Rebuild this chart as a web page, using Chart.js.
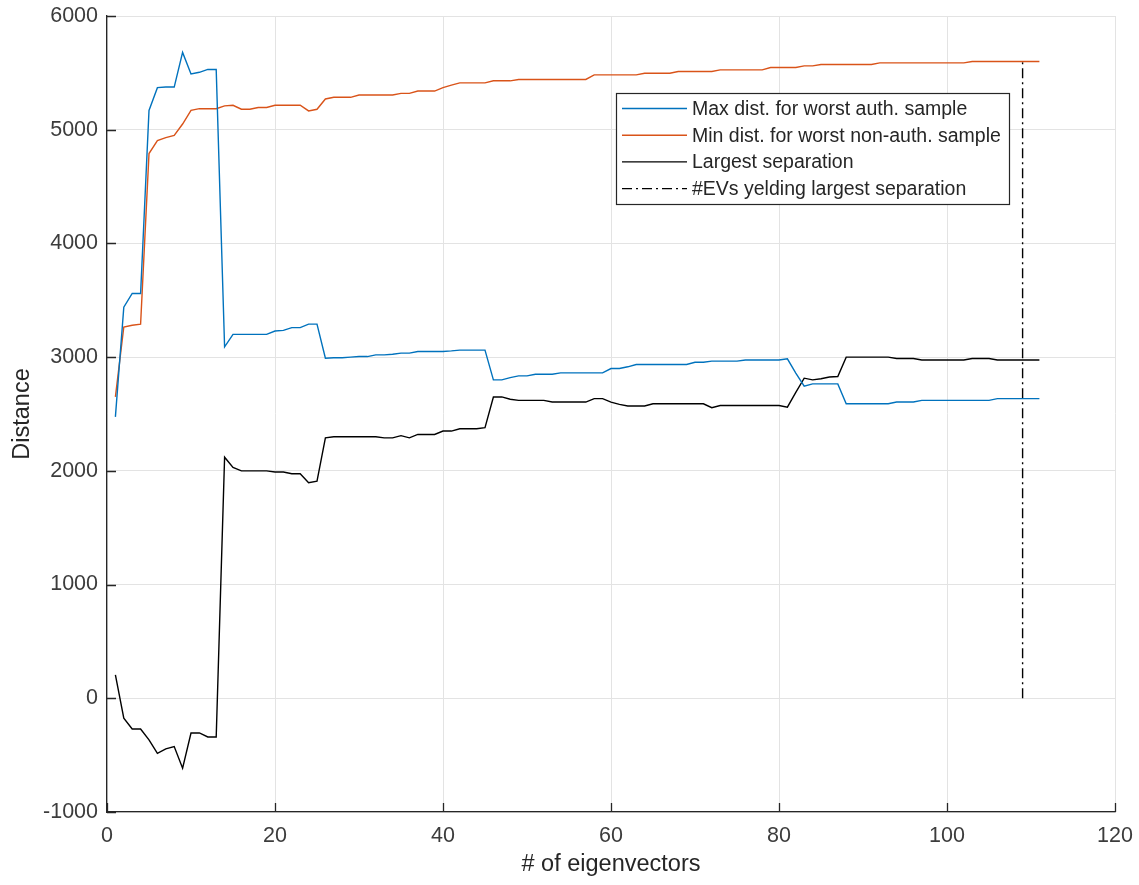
<!DOCTYPE html>
<html>
<head>
<meta charset="utf-8">
<title>Distance vs # of eigenvectors</title>
<script src="https://cdn.jsdelivr.net/npm/chart.js@4/dist/chart.umd.min.js"></script>
<style>
  html, body { margin: 0; padding: 0; background: #fff; }
  #chart { display: block; }
</style>
</head>
<body>
<canvas id="chart" width="1139" height="885"></canvas>
<script>
// number of eigenvectors used (x axis)
const evCount = Array.from({ length: 111 }, (_, i) => i + 1);

const maxDistAuth = [
  2475, 3440, 3560, 3560, 5170, 5370, 5375, 5375, 5680, 5490,
  5505, 5530, 5530, 3090, 3200, 3200, 3200, 3200, 3200, 3230,
  3235, 3260, 3260, 3290, 3290, 2990, 2995, 2995, 3000, 3005,
  3005, 3020, 3020, 3025, 3035, 3035, 3050, 3050, 3050, 3050,
  3055, 3062, 3062, 3062, 3062, 2800, 2800, 2820, 2835, 2835,
  2850, 2850, 2850, 2862, 2862, 2862, 2862, 2862, 2862, 2900,
  2900, 2915, 2935, 2935, 2935, 2935, 2935, 2935, 2935, 2955,
  2955, 2965, 2965, 2965, 2965, 2975, 2975, 2975, 2975, 2975,
  2985, 2860, 2745, 2765, 2765, 2765, 2765, 2590, 2590, 2590,
  2590, 2590, 2590, 2605, 2605, 2605, 2620, 2620, 2620, 2620,
  2620, 2620, 2620, 2620, 2620, 2635, 2635, 2635, 2635, 2635,
  2635
];

const minDistNonAuth = [
  2650, 3265, 3280, 3290, 4790, 4905, 4930, 4950, 5050, 5170,
  5185, 5185, 5185, 5210, 5215, 5180, 5180, 5195, 5195, 5215,
  5215, 5215, 5215, 5165, 5180, 5270, 5285, 5285, 5285, 5305,
  5305, 5305, 5305, 5305, 5320, 5320, 5340, 5340, 5340, 5370,
  5392, 5412, 5412, 5412, 5412, 5430, 5430, 5430, 5442, 5442,
  5442, 5442, 5442, 5442, 5442, 5442, 5442, 5482, 5482, 5482,
  5482, 5482, 5482, 5497, 5497, 5497, 5497, 5512, 5512, 5512,
  5512, 5512, 5526, 5526, 5526, 5526, 5526, 5526, 5547, 5547,
  5547, 5547, 5561, 5561, 5573, 5573, 5573, 5573, 5573, 5573,
  5573, 5588, 5588, 5588, 5588, 5588, 5588, 5588, 5588, 5588,
  5588, 5588, 5600, 5600, 5600, 5600, 5600, 5600, 5600, 5600,
  5600
];

const largestSeparation = [
  205, -175, -270, -270, -365, -485, -445, -425, -615, -305,
  -305, -340, -340, 2120, 2030, 2000, 2000, 2000, 2000, 1990,
  1990, 1975, 1975, 1895, 1910, 2290, 2300, 2300, 2300, 2300,
  2300, 2300, 2290, 2290, 2310, 2290, 2320, 2320, 2320, 2350,
  2350, 2370, 2370, 2370, 2380, 2650, 2650, 2630, 2620, 2620,
  2620, 2620, 2605, 2605, 2605, 2605, 2605, 2635, 2635, 2605,
  2585, 2570, 2570, 2570, 2590, 2590, 2590, 2590, 2590, 2590,
  2590, 2555, 2575, 2575, 2575, 2575, 2575, 2575, 2575, 2575,
  2560, 2690, 2815, 2800, 2810, 2825, 2830, 3000, 3000, 3000,
  3000, 3000, 3000, 2988, 2988, 2988, 2975, 2975, 2975, 2975,
  2975, 2975, 2988, 2988, 2988, 2975, 2975, 2975, 2975, 2975,
  2975
];

// #EVs that gives the largest separation (vertical dash-dot marker)
const bestEvCount = 109;

const seriesNames = [
  'Max dist. for worst auth. sample',
  'Min dist. for worst non-auth. sample',
  'Largest separation',
  '#EVs yelding largest separation'
];

const FONT = '"Liberation Sans", Arial, Helvetica, sans-serif';
const AXIS_COLOR = '#262626';
const TICK_COLOR = '#3c3c3c';

function toPoints(values) {
  return values.map((v, i) => ({ x: evCount[i], y: v }));
}

// MATLAB style: ticks pointing into the plot + legend box inside the axes
const matlabPlugin = {
  id: 'matlabStyle',
  afterDraw(chart) {
    const ctx = chart.ctx;
    const area = chart.chartArea;
    const xs = chart.scales.x;
    const ys = chart.scales.y;

    ctx.save();
    ctx.strokeStyle = AXIS_COLOR;
    ctx.lineWidth = 1.3;
    ctx.beginPath();
    xs.ticks.forEach(t => {
      const px = Math.round(xs.getPixelForValue(t.value)) + 0.5;
      ctx.moveTo(px, area.bottom);
      ctx.lineTo(px, area.bottom - 9);
    });
    ys.ticks.forEach(t => {
      const py = Math.round(ys.getPixelForValue(t.value)) + 0.5;
      ctx.moveTo(area.left, py);
      ctx.lineTo(area.left + 9, py);
    });
    ctx.stroke();

    // legend
    const box = { x: 616, y: 93, w: 393, h: 111 };
    ctx.fillStyle = '#fff';
    ctx.fillRect(box.x, box.y, box.w, box.h);
    ctx.strokeStyle = AXIS_COLOR;
    ctx.lineWidth = 1.2;
    ctx.strokeRect(box.x + 0.5, box.y + 0.5, box.w, box.h);

    ctx.font = '19.5px ' + FONT;
    ctx.textBaseline = 'middle';
    ctx.textAlign = 'left';
    chart.data.datasets.forEach((ds, i) => {
      const rowY = box.y + 15.5 + i * 26.7;
      ctx.strokeStyle = ds.borderColor;
      ctx.lineWidth = ds.borderWidth;
      ctx.setLineDash(ds.borderDash || []);
      ctx.beginPath();
      ctx.moveTo(box.x + 6, rowY);
      ctx.lineTo(box.x + 71, rowY);
      ctx.stroke();
      ctx.setLineDash([]);
      ctx.fillStyle = AXIS_COLOR;
      ctx.fillText(ds.label, box.x + 76, rowY + 1);
    });
    ctx.restore();
  }
};

const ctx = document.getElementById('chart').getContext('2d');
new Chart(ctx, {
  type: 'line',
  data: {
    datasets: [
      {
        label: seriesNames[0],
        data: toPoints(maxDistAuth),
        borderColor: '#0072BD',
        borderWidth: 1.4,
        pointRadius: 0,
        tension: 0
      },
      {
        label: seriesNames[1],
        data: toPoints(minDistNonAuth),
        borderColor: '#D95319',
        borderWidth: 1.4,
        pointRadius: 0,
        tension: 0
      },
      {
        label: seriesNames[2],
        data: toPoints(largestSeparation),
        borderColor: '#000000',
        borderWidth: 1.4,
        pointRadius: 0,
        tension: 0
      },
      {
        label: seriesNames[3],
        data: [
          { x: bestEvCount, y: 0 },
          { x: bestEvCount, y: minDistNonAuth[bestEvCount - 1] }
        ],
        borderColor: '#000000',
        borderWidth: 1.4,
        borderDash: [10, 4, 2, 4],
        pointRadius: 0,
        tension: 0
      }
    ]
  },
  options: {
    responsive: false,
    animation: false,
    events: [],
    layout: { padding: { top: 16, right: 24, left: 0, bottom: 0 } },
    plugins: {
      legend: { display: false },
      tooltip: { enabled: false }
    },
    scales: {
      x: {
        type: 'linear',
        min: 0,
        max: 120,
        afterFit: s => {
          s.height = 73;
          s.paddingLeft = 0;
          s.paddingRight = 0;
        },
        border: { display: true, color: AXIS_COLOR, width: 1.3 },
        grid: { color: '#e3e3e3', lineWidth: 1, drawTicks: false },
        ticks: {
          stepSize: 20,
          padding: 11,
          color: TICK_COLOR,
          font: { family: FONT, size: 21.5 },
          maxRotation: 0
        },
        title: {
          display: true,
          text: '# of eigenvectors',
          color: AXIS_COLOR,
          font: { family: FONT, size: 23.5 },
          padding: { top: 0, bottom: 6 }
        }
      },
      y: {
        type: 'linear',
        min: -1000,
        max: 6000,
        afterFit: s => {
          s.width = 107;
          s.paddingTop = 0;
          s.paddingBottom = 0;
        },
        border: { display: true, color: AXIS_COLOR, width: 1.3 },
        grid: { color: '#e3e3e3', lineWidth: 1, drawTicks: false },
        ticks: {
          stepSize: 1000,
          padding: 9,
          color: TICK_COLOR,
          font: { family: FONT, size: 21.5 },
          callback: v => String(v)
        },
        title: {
          display: true,
          text: 'Distance',
          color: AXIS_COLOR,
          font: { family: FONT, size: 23.5 },
          padding: { top: 8, bottom: 0 }
        }
      }
    }
  },
  plugins: [matlabPlugin]
});
</script>
</body>
</html>
